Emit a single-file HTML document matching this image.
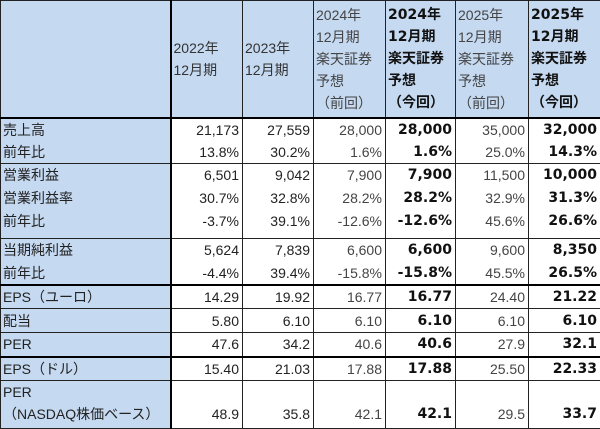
<!DOCTYPE html>
<html><head><meta charset="utf-8"><style>
body{margin:0;width:600px;height:429px;overflow:hidden;background:#fff;font-family:"Liberation Sans","Noto Sans CJK JP",sans-serif;}
table{border-collapse:collapse;table-layout:fixed;width:600px;font-size:14px;position:absolute;left:0;top:0}
td{border:1px solid #222;padding:0 3px;white-space:nowrap;overflow:hidden;text-align:right;color:#222;line-height:22px}
td.l{text-align:left;background:#c5d9f1;padding-left:2px;border-right:2px solid #000}
tr.h td{background:#c5d9f1;text-align:left;vertical-align:top;padding:3px 2px 0 2px;color:#444}
tr.h td.b{color:#111;font-weight:bold}
tr.h td.d{vertical-align:middle;color:#333;padding-top:0}
td.g{color:#444}
td.b{font-weight:bold;color:#111;font-family:"DejaVu Sans","Noto Sans CJK JP",sans-serif;font-size:14px}
tr.t td{border-top:2px solid #000}
tr.n td{border-top:none}
tr.nb td{border-bottom:none}
tr.up td{vertical-align:top}
</style></head><body>
<table>
<colgroup><col style="width:170px"><col style="width:72px"><col style="width:71px"><col style="width:72px"><col style="width:70px"><col style="width:73px"><col style="width:72px"></colgroup>
<tr class="h" style="height:117px">
<td class="l"></td>
<td class="d">2022年<br>12月期</td>
<td class="d">2023年<br>12月期</td>
<td>2024年<br>12月期<br>楽天証券<br>予想<br>（前回）</td>
<td class="b">2024年<br>12月期<br>楽天証券<br>予想<br>（今回）</td>
<td>2025年<br>12月期<br>楽天証券<br>予想<br>（前回）</td>
<td class="b">2025年<br>12月期<br>楽天証券<br>予想<br>（今回）</td>
</tr>
<tr class="t nb" style="height:23px"><td class="l">売上高</td><td>21,173</td><td>27,559</td><td class="g">28,000</td><td class="b">28,000</td><td class="g">35,000</td><td class="b">32,000</td></tr>
<tr class="n" style="height:23px"><td class="l">前年比</td><td>13.8%</td><td>30.2%</td><td class="g">1.6%</td><td class="b">1.6%</td><td class="g">25.0%</td><td class="b">14.3%</td></tr>
<tr class="nb" style="height:23px"><td class="l">営業利益</td><td>6,501</td><td>9,042</td><td class="g">7,900</td><td class="b">7,900</td><td class="g">11,500</td><td class="b">10,000</td></tr>
<tr class="n nb" style="height:23px"><td class="l">営業利益率</td><td>30.7%</td><td>32.8%</td><td class="g">28.2%</td><td class="b">28.2%</td><td class="g">32.9%</td><td class="b">31.3%</td></tr>
<tr class="n up" style="height:29px"><td class="l">前年比</td><td>-3.7%</td><td>39.1%</td><td class="g">-12.6%</td><td class="b">-12.6%</td><td class="g">45.6%</td><td class="b">26.6%</td></tr>
<tr class="nb" style="height:23px"><td class="l">当期純利益</td><td>5,624</td><td>7,839</td><td class="g">6,600</td><td class="b">6,600</td><td class="g">9,600</td><td class="b">8,350</td></tr>
<tr class="n" style="height:23px"><td class="l">前年比</td><td>-4.4%</td><td>39.4%</td><td class="g">-15.8%</td><td class="b">-15.8%</td><td class="g">45.5%</td><td class="b">26.5%</td></tr>
<tr class="t" style="height:24px"><td class="l">EPS（ユーロ）</td><td>14.29</td><td>19.92</td><td class="g">16.77</td><td class="b">16.77</td><td class="g">24.40</td><td class="b">21.22</td></tr>
<tr style="height:24px"><td class="l">配当</td><td>5.80</td><td>6.10</td><td class="g">6.10</td><td class="b">6.10</td><td class="g">6.10</td><td class="b">6.10</td></tr>
<tr style="height:24px"><td class="l">PER</td><td>47.6</td><td>34.2</td><td class="g">40.6</td><td class="b">40.6</td><td class="g">27.9</td><td class="b">32.1</td></tr>
<tr class="t" style="height:24px"><td class="l">EPS（ドル）</td><td>15.40</td><td>21.03</td><td class="g">17.88</td><td class="b">17.88</td><td class="g">25.50</td><td class="b">22.33</td></tr>
<tr style="height:48px;vertical-align:bottom"><td class="l" style="padding-bottom:3px">PER<br>（NASDAQ株価ベース）</td><td style="padding-bottom:3px">48.9</td><td style="padding-bottom:3px">35.8</td><td class="g" style="padding-bottom:3px">42.1</td><td class="b" style="padding-bottom:3px">42.1</td><td class="g" style="padding-bottom:3px">29.5</td><td class="b" style="padding-bottom:3px">33.7</td></tr>
</table>
</body></html>
